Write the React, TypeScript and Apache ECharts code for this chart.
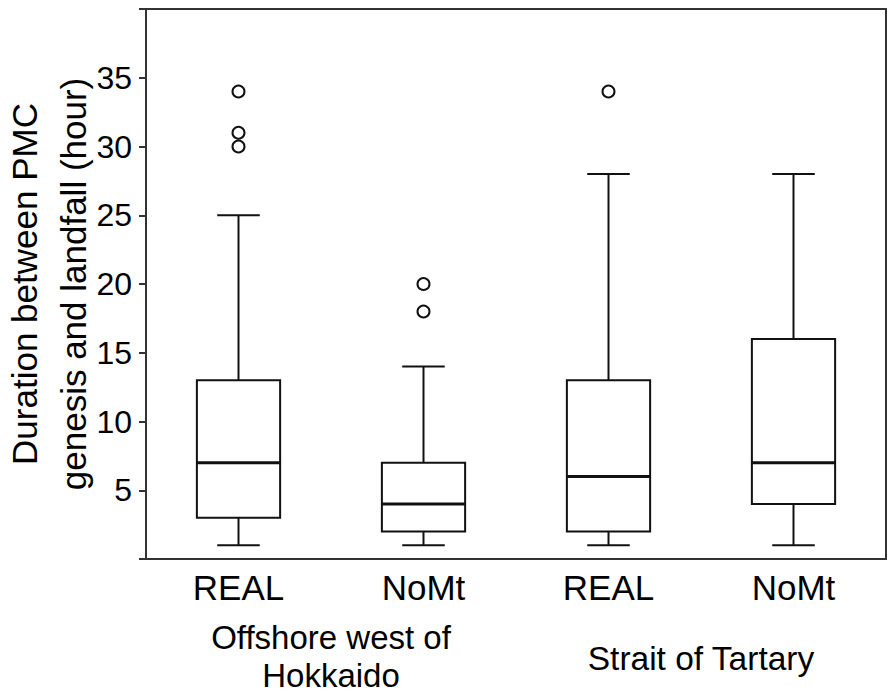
import React, { useEffect, useRef } from "react";
import * as echarts from "echarts";

const categories = ["REAL", "NoMt", "REAL", "NoMt"];
const groupLabels = ["Offshore west of\nHokkaido", "Strait of Tartary"];
const mins = [1, 1, 1, 1];
const q1s = [3, 2, 2, 4];
const medians = [7, 4, 6, 7];
const q3s = [13, 7, 13, 16];
const maxs = [25, 14, 28, 28];
const outlierIdx = [0, 0, 0, 1, 1, 2];
const outlierVals = [30, 31, 34, 18, 20, 34];
const yTicks = [5, 10, 15, 20, 25, 30, 35];
const yTitle = ["Duration between PMC", "genesis and landfall (hour)"];

const FONT = "'Liberation Sans', Arial, sans-serif";
const INK = "#111";

export default function App() {
  const ref = useRef<HTMLDivElement>(null);
  useEffect(() => {
    if (!ref.current) return;
    const chart = echarts.init(ref.current, undefined, { renderer: "svg" });
    const boxData = categories.map((_, i) => [i, mins[i], q1s[i], medians[i], q3s[i], maxs[i]]);
    const outData = outlierIdx.map((c, k) => [c, outlierVals[k]]);
    chart.setOption({
      animation: false,
      backgroundColor: "#fff",
      grid: {
        left: 146,
        top: 9,
        width: 740,
        height: 550,
        show: true,
        borderColor: "#333",
        borderWidth: 2,
        containLabel: false,
        outerBoundsMode: "none",
      },
      xAxis: {
        type: "category",
        data: categories,
        boundaryGap: true,
        axisLine: { lineStyle: { color: "#333", width: 2 } },
        axisTick: { alignWithLabel: true, length: 7, lineStyle: { color: "#333", width: 2 } },
        axisLabel: { fontFamily: FONT, fontSize: 35, color: "#000", margin: 11 },
        splitLine: { show: false },
      },
      yAxis: {
        type: "value",
        min: 0,
        max: 40,
        interval: 5,
        name: yTitle.join("\n"),
        nameLocation: "middle",
        nameRotate: 90,
        nameGap: 48,
        nameMoveOverlap: false,
        nameTextStyle: { fontFamily: FONT, fontSize: 35, color: "#000", lineHeight: 49 },
        axisLine: { show: true, lineStyle: { color: "#333", width: 2 } },
        axisTick: { show: true, length: 7, lineStyle: { color: "#333", width: 2 } },
        axisLabel: {
          fontFamily: FONT,
          fontSize: 32,
          color: "#000",
          margin: 14,
          formatter: (v: number) => (yTicks.indexOf(v) >= 0 ? String(v) : ""),
        },
        splitLine: { show: false },
      },
      graphic: [
        {
          type: "text",
          x: 331,
          y: 656,
          style: {
            text: groupLabels[0],
            fontFamily: FONT,
            fontSize: 33,
            lineHeight: 38,
            fill: "#000",
            align: "center",
            verticalAlign: "middle",
          },
        },
        {
          type: "text",
          x: 701,
          y: 658,
          style: {
            text: groupLabels[1],
            fontFamily: FONT,
            fontSize: 33.5,
            lineHeight: 38,
            fill: "#000",
            align: "center",
            verticalAlign: "middle",
          },
        },
      ],
      series: [
        {
          type: "custom",
          data: boxData,
          encode: { x: 0, y: [1, 2, 3, 4, 5] },
          renderItem: (params: any, api: any) => {
            const c = api.value(0);
            const band = api.size([1, 0])[0];
            const bw = band * 0.45;
            const cw = band * 0.23;
            const pMin = api.coord([c, api.value(1)]);
            const pQ1 = api.coord([c, api.value(2)]);
            const pMed = api.coord([c, api.value(3)]);
            const pQ3 = api.coord([c, api.value(4)]);
            const pMax = api.coord([c, api.value(5)]);
            const x = pMed[0];
            const ls = { stroke: INK, lineWidth: 2, fill: "none" };
            return {
              type: "group",
              children: [
                { type: "line", shape: { x1: x, y1: pMax[1], x2: x, y2: pQ3[1] }, style: ls },
                { type: "line", shape: { x1: x, y1: pQ1[1], x2: x, y2: pMin[1] }, style: ls },
                { type: "line", shape: { x1: x - cw / 2, y1: pMax[1], x2: x + cw / 2, y2: pMax[1] }, style: ls },
                { type: "line", shape: { x1: x - cw / 2, y1: pMin[1], x2: x + cw / 2, y2: pMin[1] }, style: ls },
                {
                  type: "rect",
                  shape: { x: x - bw / 2, y: pQ3[1], width: bw, height: pQ1[1] - pQ3[1] },
                  style: { stroke: INK, lineWidth: 2, fill: "#fff" },
                },
                {
                  type: "line",
                  shape: { x1: x - bw / 2, y1: pMed[1], x2: x + bw / 2, y2: pMed[1] },
                  style: { stroke: INK, lineWidth: 3 },
                },
              ],
            };
          },
          z: 2,
        },
        {
          type: "scatter",
          data: outData,
          symbol: "circle",
          symbolSize: 12,
          itemStyle: { color: "#fff", borderColor: INK, borderWidth: 2, opacity: 1 },
          z: 3,
        },
      ],
    });
    return () => chart.dispose();
  }, []);
  return <div ref={ref} style={{ width: 888, height: 698, position: "absolute", left: 0, top: 0 }} />;
}
